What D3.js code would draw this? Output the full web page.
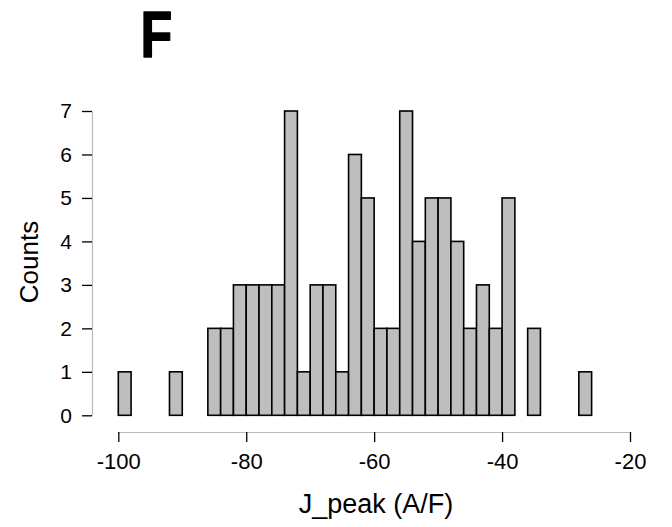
<!DOCTYPE html>
<html>
<head>
<meta charset="utf-8">
<script src="https://cdn.jsdelivr.net/npm/d3@7"></script>
<style>
  body { margin: 0; background: #fff; }
</style>
</head>
<body>
<script>
// histogram bins (left edge) and counts
var binStarts = [-100, -98, -96, -94, -92, -90, -88, -86, -84, -82, -80, -78, -76, -74, -72, -70, -68, -66, -64,
  -62, -60, -58, -56, -54, -52, -50, -48, -46, -44, -42, -40, -38, -36, -34, -32, -30, -28];
var counts = [1, 0, 0, 0, 1, 0, 0, 2, 2, 3, 3, 3, 3, 7, 1, 3, 3, 1, 6,
  5, 2, 2, 7, 4, 5, 5, 4, 2, 3, 2, 5, 0, 2, 0, 0, 0, 1];
var binWidth = 2;
var xTicks = [-100, -80, -60, -40, -20];
var yTicks = [0, 1, 2, 3, 4, 5, 6, 7];

var width = 672;
var height = 527;
var fontFam = "Liberation Sans, Arial, sans-serif";

var svg = d3.select("body")
  .append("svg")
  .attr("width", width)
  .attr("height", height);

var x = d3.scaleLinear().domain([-100, -20]).range([118.3, 630]);
var y = d3.scaleLinear().domain([0, 7]).range([415.3, 111]);

// bars
svg.selectAll("rect.bar")
  .data(counts)
  .enter()
  .append("rect")
  .attr("class", "bar")
  .attr("x", function (d, i) { return x(binStarts[i]); })
  .attr("y", function (d) { return y(d); })
  .attr("width", function (d, i) { return x(binStarts[i] + binWidth) - x(binStarts[i]); })
  .attr("height", function (d) { return y(0) - y(d); })
  .attr("fill", "#bebebe")
  .attr("stroke", "#000")
  .attr("stroke-width", 1.6);

// x axis
var xAxis = svg.append("g")
  .attr("transform", "translate(0,432)")
  .call(d3.axisBottom(x).tickValues(xTicks).tickSize(10).tickPadding(11).tickSizeOuter(0)
    .tickFormat(function (d) { return String(d); }));
xAxis.select(".domain").attr("stroke", "#bbb").attr("stroke-width", 1.2);
xAxis.selectAll(".tick line").attr("stroke", "#000").attr("stroke-width", 1.3);
xAxis.selectAll(".tick text")
  .attr("font-size", 22)
  .attr("font-family", fontFam)
  .attr("fill", "#000");

// y axis
var yAxis = svg.append("g")
  .attr("transform", "translate(92,0)")
  .call(d3.axisLeft(y).tickValues(yTicks).tickSize(10).tickPadding(10).tickSizeOuter(0)
    .tickFormat(d3.format("d")));
yAxis.select(".domain").attr("stroke", "#bbb").attr("stroke-width", 1.2);
yAxis.selectAll(".tick line").attr("stroke", "#000").attr("stroke-width", 1.3);
yAxis.selectAll(".tick text")
  .attr("font-size", 21)
  .attr("font-family", fontFam)
  .attr("fill", "#000");

// axis titles
svg.append("text")
  .attr("x", 376)
  .attr("y", 513)
  .attr("text-anchor", "middle")
  .attr("font-family", fontFam)
  .attr("font-size", 27)
  .text("J_peak (A/F)");

svg.append("text")
  .attr("transform", "translate(38,262) rotate(-90)")
  .attr("text-anchor", "middle")
  .attr("font-family", fontFam)
  .attr("font-size", 26)
  .text("Counts");

// panel letter
svg.append("text")
  .attr("transform", "translate(140.5,57.3) scale(0.8,1)")
  .attr("font-family", fontFam)
  .attr("font-weight", "bold")
  .attr("font-size", 65)
  .attr("stroke", "#000")
  .attr("stroke-width", 1.5)
  .attr("stroke-linejoin", "round")
  .text("F");
</script>
</body>
</html>
